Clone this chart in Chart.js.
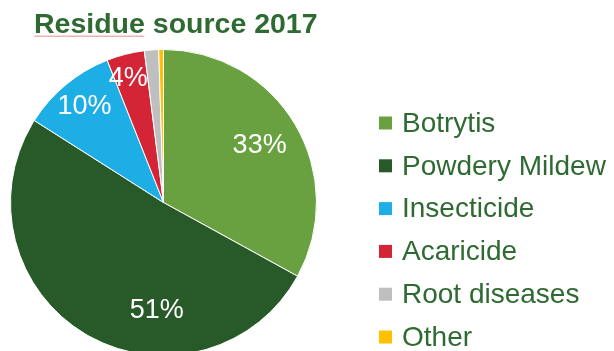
<!DOCTYPE html>
<html>
<head>
<meta charset="utf-8">
<script src="https://cdn.jsdelivr.net/npm/chart.js@4"></script>
<style>
  html, body { margin: 0; padding: 0; background: #fff; overflow: hidden; }
  canvas { display: block; }
</style>
</head>
<body>
<canvas id="residueChart" width="614" height="360"></canvas>
<script>
// Residue source breakdown, 2017 (share of detections, %)
const categories = ["Botrytis", "Powdery Mildew", "Insecticide", "Acaricide", "Root diseases", "Other"];
const shares = [33, 51, 10, 4, 1.5, 0.5];
const sliceColors = ["#6aa140", "#285a29", "#1daee6", "#d42536", "#bfbfbf", "#ffc000"];
const titleText = "Residue source 2017";

const textGreen = "#2e6a31";

// label placement per slice: fraction of radius, angle shift (deg)
const labelRadius = [0.73, 0.71, 0.81, 0.84, 0, 0];
const labelShift = [0, -27, 0, -1.5, 0, 0];

// title + legend drawn by hand so the pie keeps its own box
const sideText = {
  id: "sideText",
  afterDraw(chart) {
    const ctx = chart.ctx;
    ctx.save();

    // title
    ctx.font = "bold 28.5px 'Liberation Sans', Arial, sans-serif";
    ctx.fillStyle = textGreen;
    ctx.textBaseline = "alphabetic";
    ctx.textAlign = "left";
    ctx.fillText(titleText, 34, 33);

    // spell-check squiggle under the first word
    const w = ctx.measureText("Residue").width;
    ctx.strokeStyle = "#e06060";
    ctx.lineWidth = 0.8;
    ctx.beginPath();
    for (let x = 34; x <= 34 + w; x += 1) {
      const y = 36 + ((x % 2) ? 0.7 : -0.3);
      if (x === 34) ctx.moveTo(x, y); else ctx.lineTo(x, y);
    }
    ctx.stroke();

    // legend
    ctx.font = "28px 'Liberation Sans', Arial, sans-serif";
    ctx.textBaseline = "middle";
    categories.forEach((name, i) => {
      const y = 123 + i * 42.8;
      ctx.fillStyle = sliceColors[i];
      ctx.fillRect(379, y - 6.5, 13, 13);
      ctx.fillStyle = textGreen;
      ctx.fillText(name, 402, y + 1);
    });

    ctx.restore();
  },
};

// percentage labels inside the bigger slices
const sliceLabels = {
  id: "sliceLabels",
  afterDatasetsDraw(chart) {
    const ctx = chart.ctx;
    const meta = chart.getDatasetMeta(0);
    ctx.save();
    ctx.font = "27px 'Liberation Sans', Arial, sans-serif";
    ctx.fillStyle = "#ffffff";
    ctx.textAlign = "center";
    ctx.textBaseline = "middle";
    meta.data.forEach((arc, i) => {
      if (!labelRadius[i]) return;
      const p = arc.getProps(["x", "y", "startAngle", "endAngle", "outerRadius"], true);
      const a = (p.startAngle + p.endAngle) / 2 + labelShift[i] * Math.PI / 180;
      const r = p.outerRadius * labelRadius[i];
      ctx.fillText(shares[i] + "%", p.x + Math.cos(a) * r, p.y + Math.sin(a) * r);
    });
    ctx.restore();
  },
};

new Chart(document.getElementById("residueChart"), {
  type: "pie",
  data: {
    labels: categories,
    datasets: [
      {
        data: shares,
        backgroundColor: sliceColors,
        borderColor: "#ffffff",
        borderWidth: 1,
      },
    ],
  },
  options: {
    responsive: false,
    animation: false,
    layout: { padding: { left: 10, right: 297, top: 48, bottom: 3 } },
    plugins: {
      legend: { display: false },
      title: { display: false },
      tooltip: { enabled: false },
    },
  },
  plugins: [sliceLabels, sideText],
});
</script>
</body>
</html>
